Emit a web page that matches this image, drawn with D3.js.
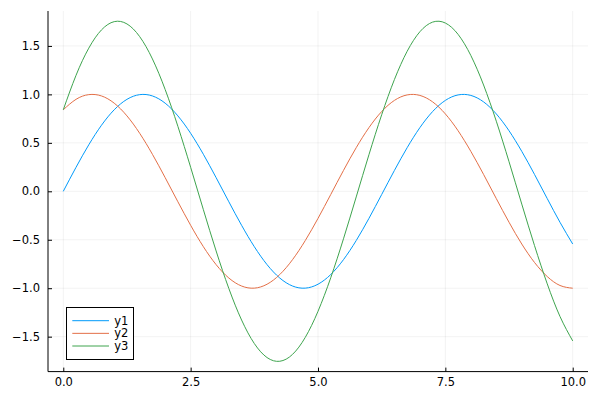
<!DOCTYPE html>
<html><head><meta charset="utf-8">
<script src="https://cdn.jsdelivr.net/npm/d3@7"></script>
<style>body{margin:0;background:#fff}svg{display:block}</style>
</head><body>
<svg id="c" width="600" height="400"></svg>
<script>
const xs = [0,0.25,0.5,0.75,1,1.25,1.5,1.75,2,2.25,2.5,2.75,3,3.25,3.5,3.75,4,4.25,4.5,4.75,5,5.25,5.5,5.75,6,6.25,6.5,6.75,7,7.25,7.5,7.75,8,8.25,8.5,8.75,9,9.25,9.5,9.75,10];
const y1 = [0,0.2474,0.4794,0.6816,0.8415,0.9490,0.9975,0.9840,0.9093,0.7781,0.5985,0.3817,0.1411,-0.1082,-0.3508,-0.5716,-0.7568,-0.8950,-0.9775,-0.9993,-0.9589,-0.8589,-0.7055,-0.5082,-0.2794,-0.0332,0.2151,0.4500,0.6570,0.8231,0.9380,0.9946,0.9894,0.9228,0.7985,0.6247,0.4121,0.1743,-0.0752,-0.3195,-0.5440];
const y2 = [0.8415,0.9490,0.9975,0.9840,0.9093,0.7781,0.5985,0.3817,0.1411,-0.1082,-0.3508,-0.5716,-0.7568,-0.8950,-0.9775,-0.9993,-0.9589,-0.8589,-0.7055,-0.5082,-0.2794,-0.0332,0.2151,0.4500,0.6570,0.8231,0.9380,0.9946,0.9894,0.9228,0.7985,0.6247,0.4121,0.1743,-0.0752,-0.3195,-0.5440,-0.7343,-0.8797,-0.9718,-1.0000];
const y3 = [0.8415,1.1964,1.4769,1.6656,1.7508,1.7271,1.5960,1.3657,1.0504,0.6699,0.2477,-0.1899,-0.6157,-1.0032,-1.3283,-1.5709,-1.7157,-1.7539,-1.6830,-1.5075,-1.2383,-0.8921,-0.4904,-0.0582,0.3776,0.7899,1.1531,1.4446,1.6464,1.7459,1.7365,1.6193,1.4015,1.0971,0.7233,0.3052,-0.1319,-0.5600,-0.9549,-1.2913,-1.5440];
const seriesNames = ["y1","y2","y3"];
const xTicks = [0,2.5,5,7.5,10];
const yTicks = [-1.5,-1.0,-0.5,0.0,0.5,1.0,1.5];
const colors = ["#009AFA","#E36F47","#3EA44E"];

const L=48, R=588, T=11, B=371.6;
const svg = d3.select("#c");
const x = d3.scaleLinear().domain([-0.3,10.3]).range([L,R]);
const y = d3.scaleLinear().domain([-1.8605,1.8605]).range([B,T]);
const font = "'DejaVu Sans', sans-serif";

// grid
svg.append("g").selectAll("line").data(xTicks).join("line")
  .attr("x1",d=>x(d)).attr("x2",d=>x(d)).attr("y1",T).attr("y2",B)
  .attr("stroke","#000").attr("stroke-opacity",0.1).attr("stroke-width",0.5);
svg.append("g").selectAll("line").data(yTicks).join("line")
  .attr("y1",d=>y(d)).attr("y2",d=>y(d)).attr("x1",L).attr("x2",R)
  .attr("stroke","#000").attr("stroke-opacity",0.1).attr("stroke-width",0.5);

// axes
const fmt = d=> d3.format(".1f")(d).replace("-","\u2212");
const xa = svg.append("g").attr("transform",`translate(0,${B})`)
  .call(d3.axisBottom(x).tickValues(xTicks).tickFormat(fmt).tickSizeInner(-4).tickSizeOuter(0).tickPadding(6));
const ya = svg.append("g").attr("transform",`translate(${L},0)`)
  .call(d3.axisLeft(y).tickValues(yTicks).tickFormat(fmt).tickSizeInner(-4).tickSizeOuter(0).tickPadding(8));
[xa,ya].forEach(a=>{
  a.select(".domain").attr("stroke","#000").attr("stroke-width",1);
  a.selectAll(".tick line").attr("stroke","#000");
  a.selectAll("text").attr("font-family",font).attr("font-size",11.5).attr("fill","#000");
});
xa.select(".domain").attr("d",`M${L},0H${R}`);
ya.select(".domain").attr("d",`M0,${B}V${T}`);

// lines
const data = [y1,y2,y3];
const line = d3.line().x((d,i)=>x(xs[i])).y(d=>y(d)).curve(d3.curveNatural);
const clip = svg.append("clipPath").attr("id","pc").append("rect").attr("x",L).attr("y",T).attr("width",R-L).attr("height",B-T);
svg.append("g").attr("clip-path","url(#pc)").selectAll("path").data(data).join("path")
  .attr("d",line).attr("fill","none").attr("stroke",(d,i)=>colors[i]).attr("stroke-width",1);

// legend
const lg = svg.append("g");
lg.append("rect").attr("x",66.5).attr("y",307.5).attr("width",67).attr("height",52)
  .attr("fill","#fff").attr("stroke","#000").attr("stroke-width",1);
seriesNames.forEach((n,i)=>{
  const yy = 320.7 + i*12.65;
  lg.append("line").attr("x1",72.3).attr("x2",109).attr("y1",yy).attr("y2",yy).attr("stroke",colors[i]).attr("stroke-width",1);
  lg.append("text").attr("x",114.3).attr("y",yy).attr("dy","0.35em").attr("font-family",font).attr("font-size",11.5).attr("fill","#000").text(n);
});
</script>
</body></html>
